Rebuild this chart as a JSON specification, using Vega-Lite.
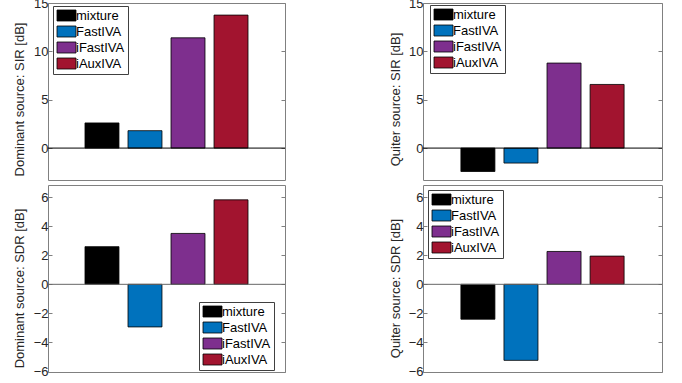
{
  "$schema": "https://vega.github.io/schema/vega-lite/v6.json",
  "autosize": {"type": "none"},
  "padding": {"left": 48, "top": 3, "right": 634, "bottom": 380},
  "background": "white",
  "data": {"values": [
    {"panel": "domSIR", "method": "mixture", "value": 2.6},
    {"panel": "domSIR", "method": "FastIVA", "value": 1.8},
    {"panel": "domSIR", "method": "iFastIVA", "value": 11.4},
    {"panel": "domSIR", "method": "iAuxIVA", "value": 13.75},
    {"panel": "quiSIR", "method": "mixture", "value": -2.42},
    {"panel": "quiSIR", "method": "FastIVA", "value": -1.55},
    {"panel": "quiSIR", "method": "iFastIVA", "value": 8.79},
    {"panel": "quiSIR", "method": "iAuxIVA", "value": 6.58},
    {"panel": "domSDR", "method": "mixture", "value": 2.59},
    {"panel": "domSDR", "method": "FastIVA", "value": -2.93},
    {"panel": "domSDR", "method": "iFastIVA", "value": 3.5},
    {"panel": "domSDR", "method": "iAuxIVA", "value": 5.81},
    {"panel": "quiSDR", "method": "mixture", "value": -2.4},
    {"panel": "quiSDR", "method": "FastIVA", "value": -5.23},
    {"panel": "quiSDR", "method": "iFastIVA", "value": 2.26},
    {"panel": "quiSDR", "method": "iAuxIVA", "value": 1.94}
  ]},
  "columns": 2,
  "align": "each",
  "bounds": "flush",
  "spacing": {"row": 5, "column": 138},
  "resolve": {"scale": {"color": "independent"}, "legend": {"color": "independent"}},
  "concat": [
    {
      "width": 237, "height": 177,
      "transform": [{"filter": "datum.panel == 'domSIR'"}],
      "layer": [
        {
          "mark": {"type": "bar", "stroke": "#000", "strokeWidth": 0.8},
          "encoding": {
            "x": {"field": "method", "type": "nominal", "sort": ["mixture", "FastIVA", "iFastIVA", "iAuxIVA"], "scale": {"paddingInner": 0.21, "paddingOuter": 0.86}, "axis": null},
            "y": {"field": "value", "type": "quantitative", "scale": {"domain": [-3.3, 15], "nice": false, "zero": false}, "axis": {"orient": "left", "values": [0, 5, 10, 15], "title": "Dominant source: SIR [dB]", "titleX": -29, "titleY": 96, "titleBaseline": "middle"}},
            "color": {"field": "method", "type": "nominal", "scale": {"domain": ["mixture", "FastIVA", "iFastIVA", "iAuxIVA"], "range": ["#000000", "#0072BD", "#7E2F8E", "#A2142F"]}, "legend": {"orient": "none", "legendX": 5, "legendY": 3, "title": null}}
          }
        },
        {
          "data": {"values": [{"z": 0}]},
          "mark": {"type": "rule", "color": "#000", "strokeWidth": 1},
          "encoding": {
            "y": {"field": "z", "type": "quantitative", "scale": {"domain": [-3.3, 15], "nice": false, "zero": false}, "axis": {"orient": "right", "values": [0, 5, 10, 15], "labels": false, "title": null}}
          }
        }
      ]
    },
    {
      "width": 239, "height": 177,
      "transform": [{"filter": "datum.panel == 'quiSIR'"}],
      "layer": [
        {
          "mark": {"type": "bar", "stroke": "#000", "strokeWidth": 0.8},
          "encoding": {
            "x": {"field": "method", "type": "nominal", "sort": ["mixture", "FastIVA", "iFastIVA", "iAuxIVA"], "scale": {"paddingInner": 0.21, "paddingOuter": 0.88}, "axis": null},
            "y": {"field": "value", "type": "quantitative", "scale": {"domain": [-3.3, 15], "nice": false, "zero": false}, "axis": {"orient": "left", "values": [0, 5, 10, 15], "title": "Quiter source: SIR [dB]", "titleX": -28, "titleY": 96, "titleBaseline": "middle"}},
            "color": {"field": "method", "type": "nominal", "scale": {"domain": ["mixture", "FastIVA", "iFastIVA", "iAuxIVA"], "range": ["#000000", "#0072BD", "#7E2F8E", "#A2142F"]}, "legend": {"orient": "none", "legendX": 7, "legendY": 2, "title": null}}
          }
        },
        {
          "data": {"values": [{"z": 0}]},
          "mark": {"type": "rule", "color": "#000", "strokeWidth": 1},
          "encoding": {
            "y": {"field": "z", "type": "quantitative", "scale": {"domain": [-3.3, 15], "nice": false, "zero": false}, "axis": {"orient": "right", "values": [0, 5, 10, 15], "labels": false, "title": null}}
          }
        }
      ]
    },
    {
      "width": 237, "height": 187,
      "transform": [{"filter": "datum.panel == 'domSDR'"}],
      "layer": [
        {
          "mark": {"type": "bar", "stroke": "#000", "strokeWidth": 0.8},
          "encoding": {
            "x": {"field": "method", "type": "nominal", "sort": ["mixture", "FastIVA", "iFastIVA", "iAuxIVA"], "scale": {"paddingInner": 0.21, "paddingOuter": 0.86}, "axis": null},
            "y": {"field": "value", "type": "quantitative", "scale": {"domain": [-6.03, 6.83], "nice": false, "zero": false}, "axis": {"orient": "left", "values": [-6, -4, -2, 0, 2, 4, 6], "title": "Dominant source: SDR [dB]", "titleX": -29, "titleY": 103, "titleBaseline": "middle"}},
            "color": {"field": "method", "type": "nominal", "scale": {"domain": ["mixture", "FastIVA", "iFastIVA", "iAuxIVA"], "range": ["#000000", "#0072BD", "#7E2F8E", "#A2142F"]}, "legend": {"orient": "none", "legendX": 151, "legendY": 117, "title": null}}
          }
        },
        {
          "data": {"values": [{"z": 0}]},
          "mark": {"type": "rule", "color": "#666", "strokeWidth": 1},
          "encoding": {
            "y": {"field": "z", "type": "quantitative", "scale": {"domain": [-6.03, 6.83], "nice": false, "zero": false}, "axis": {"orient": "right", "values": [-6, -4, -2, 0, 2, 4, 6], "labels": false, "title": null}}
          }
        }
      ]
    },
    {
      "width": 239, "height": 187,
      "transform": [{"filter": "datum.panel == 'quiSDR'"}],
      "layer": [
        {
          "mark": {"type": "bar", "stroke": "#000", "strokeWidth": 0.8},
          "encoding": {
            "x": {"field": "method", "type": "nominal", "sort": ["mixture", "FastIVA", "iFastIVA", "iAuxIVA"], "scale": {"paddingInner": 0.21, "paddingOuter": 0.88}, "axis": null},
            "y": {"field": "value", "type": "quantitative", "scale": {"domain": [-6.03, 6.83], "nice": false, "zero": false}, "axis": {"orient": "left", "values": [-6, -4, -2, 0, 2, 4, 6], "title": "Quiter source: SDR [dB]", "titleX": -28, "titleY": 103, "titleBaseline": "middle"}},
            "color": {"field": "method", "type": "nominal", "scale": {"domain": ["mixture", "FastIVA", "iFastIVA", "iAuxIVA"], "range": ["#000000", "#0072BD", "#7E2F8E", "#A2142F"]}, "legend": {"orient": "none", "legendX": 5, "legendY": 5, "title": null}}
          }
        },
        {
          "data": {"values": [{"z": 0}]},
          "mark": {"type": "rule", "color": "#666", "strokeWidth": 1},
          "encoding": {
            "y": {"field": "z", "type": "quantitative", "scale": {"domain": [-6.03, 6.83], "nice": false, "zero": false}, "axis": {"orient": "right", "values": [-6, -4, -2, 0, 2, 4, 6], "labels": false, "title": null}}
          }
        }
      ]
    }
  ],
  "config": {
    "view": {"stroke": "#808080", "strokeWidth": 1},
    "font": "Liberation Sans",
    "axis": {"domain": false, "grid": false, "tickColor": "#808080", "tickSize": -4, "labelFontSize": 13, "labelColor": "#262626", "labelPadding": 4, "titleFontSize": 13, "titleFontWeight": "normal", "titleColor": "#262626"},
    "legend": {"labelFontSize": 13, "labelColor": "#000", "strokeColor": "#404040", "fillColor": "#ffffff", "padding": 3, "symbolType": "M-1,-1H2.4545V1H-1Z", "symbolSize": 121, "symbolStrokeColor": "#000", "symbolStrokeWidth": 0.8, "symbolOpacity": 1, "labelOffset": 7, "rowPadding": 1}
  }
}
